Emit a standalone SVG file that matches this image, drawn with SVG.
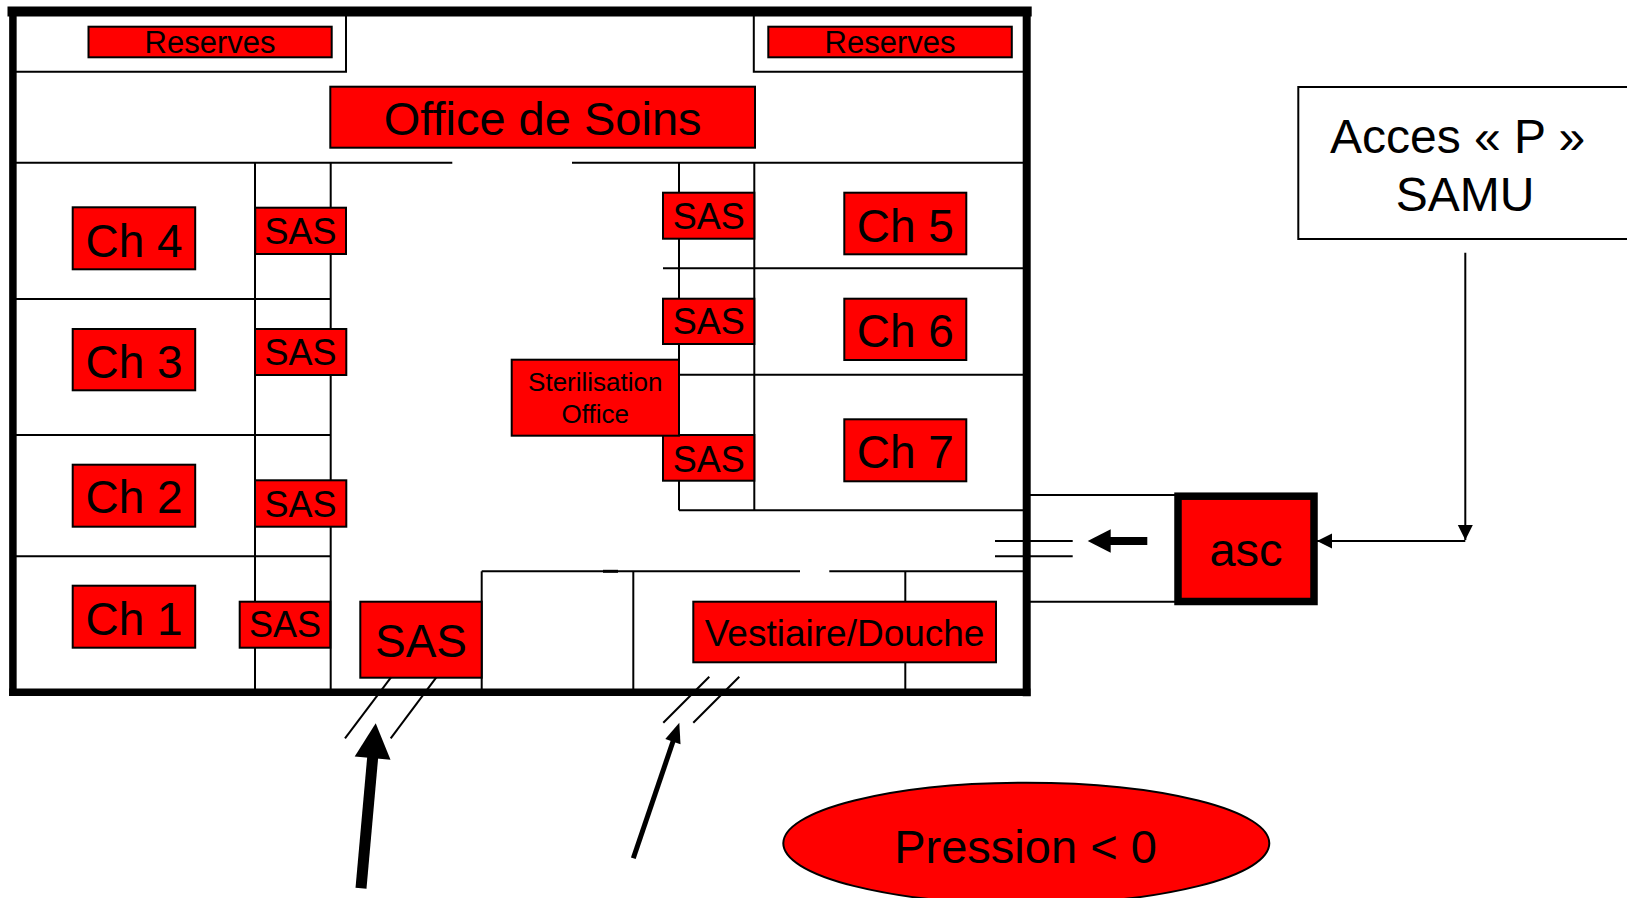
<svg xmlns="http://www.w3.org/2000/svg" width="1627" height="898" viewBox="0 0 1627 898">
<style>
  .wall{stroke:#000;fill:none;stroke-linecap:square}
  .ln{stroke:#000;stroke-width:2;fill:none}
  .box{fill:#ff0000;stroke:#000;stroke-width:2}
  .t{font-family:"Liberation Sans",Arial,sans-serif;fill:#000;text-anchor:middle}
  .ch{font-size:46px}
  .sas{font-size:36px}
</style>
<defs>
  <marker id="ah" markerWidth="16" markerHeight="16" refX="15" refY="7.5" orient="auto" markerUnits="userSpaceOnUse">
    <path d="M0,0 L15,7.5 L0,15 Z" fill="#000"/>
  </marker>
</defs>
<rect width="1627" height="898" fill="#fff"/>

<g id="walls">
  <line class="wall" x1="12.5" y1="11.5" x2="1026.7" y2="11.5" stroke-width="10"/>
  <line class="wall" x1="12.9" y1="11.5" x2="12.9" y2="692.2" stroke-width="7.5"/>
  <line class="wall" x1="12.9" y1="692.2" x2="1026.7" y2="692.2" stroke-width="7.5"/>
  <line class="wall" x1="1026.7" y1="11.5" x2="1026.7" y2="692.2" stroke-width="8"/>
</g>

<g id="partitions">
  <polyline class="ln" points="12,71.7 346,71.7 346,11"/>
  <polyline class="ln" points="753.8,11 753.8,71.7 1026,71.7"/>
  <line class="ln" x1="12" y1="162.7" x2="452.3" y2="162.7"/>
  <line class="ln" x1="572" y1="162.7" x2="1026" y2="162.7"/>
  <line class="ln" x1="255" y1="162.7" x2="255" y2="692"/>
  <line class="ln" x1="330.7" y1="162.7" x2="330.7" y2="692"/>
  <line class="ln" x1="12" y1="299" x2="330.7" y2="299"/>
  <line class="ln" x1="12" y1="435" x2="330.7" y2="435"/>
  <line class="ln" x1="12" y1="556.3" x2="330.7" y2="556.3"/>
  <line class="ln" x1="679" y1="162.7" x2="679" y2="510.3"/>
  <line class="ln" x1="754.3" y1="162.7" x2="754.3" y2="510.3"/>
  <line class="ln" x1="663" y1="268.3" x2="1026" y2="268.3"/>
  <line class="ln" x1="679" y1="374.7" x2="1026" y2="374.7"/>
  <line class="ln" x1="679" y1="510.3" x2="1026" y2="510.3"/>
  <line class="ln" x1="481.7" y1="571.3" x2="800" y2="571.3"/>
  <line class="ln" x1="829.3" y1="571.3" x2="1026" y2="571.3"/>
  <line x1="603" y1="571.3" x2="618" y2="571.3" stroke="#000" stroke-width="3"/>
  <line class="ln" x1="481.7" y1="571.3" x2="481.7" y2="692"/>
  <line class="ln" x1="633.3" y1="571.3" x2="633.3" y2="692"/>
  <line class="ln" x1="905.3" y1="571.3" x2="905.3" y2="692"/>
  <line class="ln" x1="1026" y1="495" x2="1175" y2="495"/>
  <line class="ln" x1="1026" y1="601.7" x2="1175" y2="601.7"/>
</g>

<g id="reserves-left"><rect class="box" x="88.5" y="26.7" width="243.2" height="30.6"/><text class="t" x="210" y="53.3" font-size="31">Reserves</text></g>
<g id="reserves-right"><rect class="box" x="768.3" y="26.7" width="243.5" height="30.6"/><text class="t" x="890" y="53.3" font-size="31">Reserves</text></g>
<g id="office-soins"><rect class="box" x="330.3" y="86.7" width="424.7" height="61"/><text class="t" x="542.6" y="135" font-size="47">Office de Soins</text></g>

<g id="ch4"><rect class="box" x="72.7" y="207.3" width="122.5" height="62"/><text class="t ch" x="134" y="256.7">Ch 4</text></g>
<g id="ch3"><rect class="box" x="72.7" y="329" width="122.5" height="61.3"/><text class="t ch" x="134" y="377.7">Ch 3</text></g>
<g id="ch2"><rect class="box" x="72.7" y="464.7" width="122.5" height="62"/><text class="t ch" x="134" y="513.3">Ch 2</text></g>
<g id="ch1"><rect class="box" x="72.7" y="585.7" width="122.5" height="62"/><text class="t ch" x="134" y="635">Ch 1</text></g>

<g id="sas4"><rect class="box" x="255.2" y="207.7" width="90.8" height="46.3"/><text class="t sas" x="300.6" y="244.3">SAS</text></g>
<g id="sas3"><rect class="box" x="255" y="329" width="91.3" height="46"/><text class="t sas" x="300.6" y="365">SAS</text></g>
<g id="sas2"><rect class="box" x="255" y="480.3" width="91.3" height="46.4"/><text class="t sas" x="300.6" y="516.7">SAS</text></g>
<g id="sas1"><rect class="box" x="239.7" y="601.7" width="90.6" height="46"/><text class="t sas" x="285" y="637.3">SAS</text></g>
<g id="sas-entree"><rect class="box" x="360.3" y="601.7" width="121.4" height="76"/><text class="t" x="421" y="656.7" font-size="46">SAS</text></g>

<g id="sas5"><rect class="box" x="663" y="192.7" width="91.3" height="46"/><text class="t sas" x="708.7" y="229.3">SAS</text></g>
<g id="sas6"><rect class="box" x="663" y="298.7" width="91.3" height="45.3"/><text class="t sas" x="708.7" y="334.3">SAS</text></g>
<g id="sas7"><rect class="box" x="663" y="435" width="91.3" height="45.7"/><text class="t sas" x="708.7" y="471.7">SAS</text></g>

<g id="ch5"><rect class="box" x="844.3" y="192.7" width="122" height="61.6"/><text class="t ch" x="905.3" y="241.7">Ch 5</text></g>
<g id="ch6"><rect class="box" x="844.3" y="298.7" width="122" height="61.3"/><text class="t ch" x="905.3" y="347.3">Ch 6</text></g>
<g id="ch7"><rect class="box" x="844.3" y="419.3" width="122" height="62"/><text class="t ch" x="905.3" y="467.7">Ch 7</text></g>

<g id="sterilisation"><rect class="box" x="511.7" y="359.7" width="167.3" height="76"/><text class="t" x="595.3" y="391" font-size="26">Sterilisation</text><text class="t" x="595.3" y="422.7" font-size="26">Office</text></g>

<g id="vestiaire"><rect class="box" x="693.3" y="601.7" width="302.7" height="60.6"/><text class="t" x="844.6" y="645.7" font-size="37">Vestiaire/Douche</text></g>

<g id="asc"><rect x="1178" y="496.2" width="136" height="105.3" fill="#ff0000" stroke="#000" stroke-width="7.5"/><text class="t" x="1246" y="566" font-size="47">asc</text></g>

<g id="acces-samu"><rect x="1298.3" y="87" width="340" height="152" fill="#fff" stroke="#000" stroke-width="2"/><text class="t" x="1330" y="153.3" font-size="48" style="text-anchor:start">Acces « P »</text><text class="t" x="1465" y="211" font-size="48">SAMU</text></g>

<g id="pression"><ellipse cx="1026.3" cy="843.3" rx="243" ry="60.6" fill="#ff0000" stroke="#000" stroke-width="2"/><text class="t" x="1025.5" y="862.7" font-size="47">Pression &lt; 0</text></g>

<g id="connectors">
  <line class="ln" x1="1465.3" y1="252.7" x2="1465.3" y2="540" marker-end="url(#ah)"/>
  <line class="ln" x1="1465.3" y1="541" x2="1317" y2="541" marker-end="url(#ah)"/>
  <line class="ln" x1="995" y1="541" x2="1072.7" y2="541"/>
  <line class="ln" x1="995" y1="556.3" x2="1072.7" y2="556.3"/>
  <line x1="1147.3" y1="541" x2="1108" y2="541" stroke="#000" stroke-width="8"/>
  <polygon points="1087.7,541 1110.7,529.3 1110.7,552.7" fill="#000"/>
  <line class="ln" x1="391" y1="677.3" x2="345" y2="738.3"/>
  <line class="ln" x1="436.3" y1="677.3" x2="390.7" y2="738.3"/>
  <line x1="361" y1="888.3" x2="372.8" y2="756" stroke="#000" stroke-width="11"/>
  <polygon points="375.7,723.3 354.7,756.6 390.5,759.8" fill="#000"/>
  <line class="ln" x1="709.3" y1="676.7" x2="663.3" y2="722.7"/>
  <line class="ln" x1="739.3" y1="676.7" x2="693.3" y2="722.7"/>
  <line x1="633.3" y1="858.3" x2="673.5" y2="740" stroke="#000" stroke-width="5"/>
  <polygon points="679.3,722.7 665.3,739 680.5,744.2" fill="#000"/>
</g>
</svg>
